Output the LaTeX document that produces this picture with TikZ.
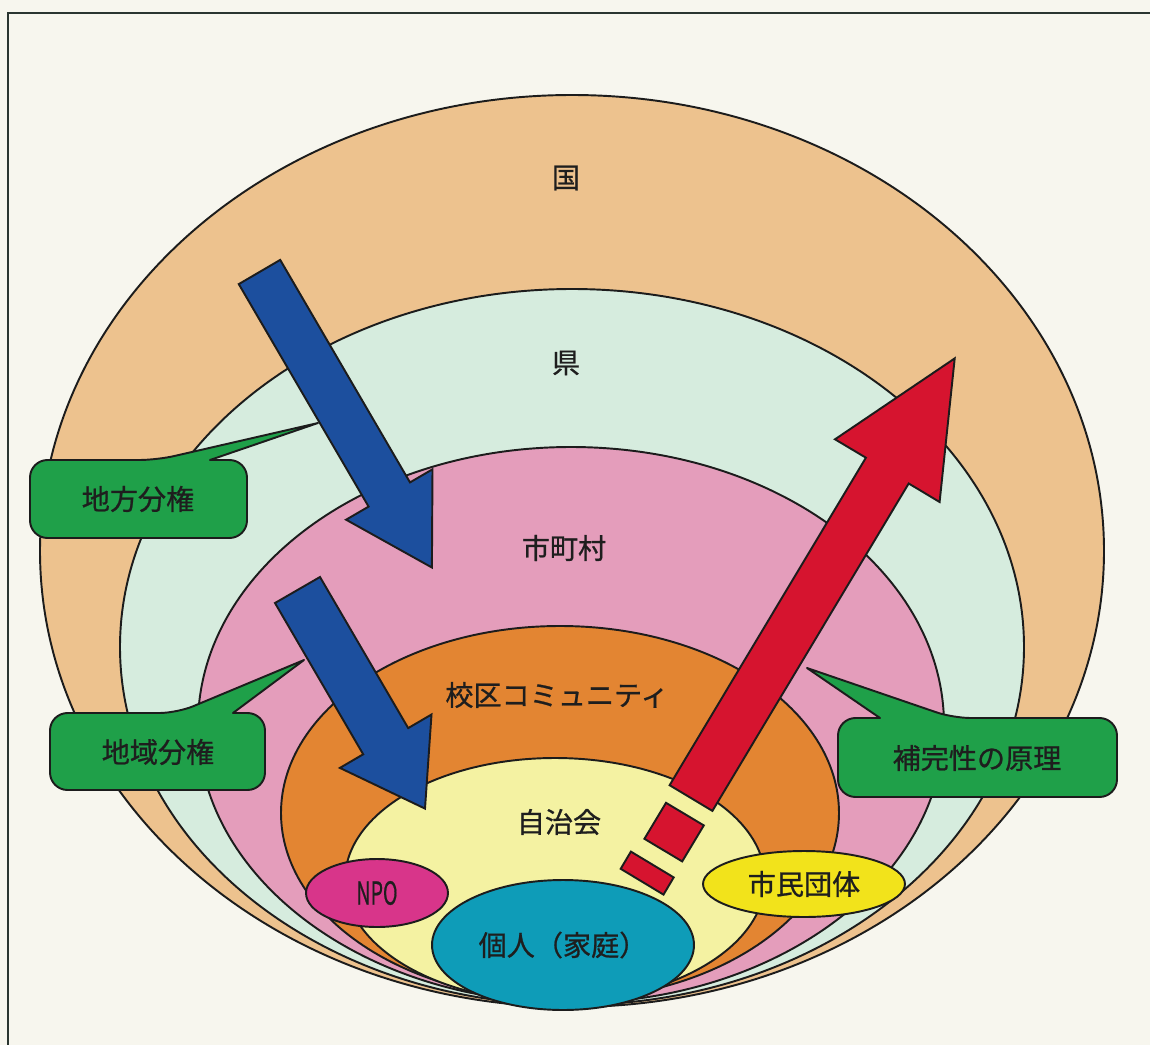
\documentclass[tikz,border=0pt]{standalone}
\usepackage{fontspec}
\setmainfont[FakeBold=0.8]{Noto Sans CJK JP}
\usetikzlibrary{shapes.geometric}
\definecolor{bg}{HTML}{F7F6EE}
\definecolor{framec}{HTML}{2A3530}
\definecolor{linec}{HTML}{1C1C1C}
\definecolor{txt}{HTML}{1E1E1E}
\definecolor{ctan}{HTML}{EDC28E}
\definecolor{cmint}{HTML}{D6ECDE}
\definecolor{cpink}{HTML}{E49DBB}
\definecolor{corange}{HTML}{E38532}
\definecolor{cpale}{HTML}{F4F2A2}
\definecolor{cteal}{HTML}{0E9CB8}
\definecolor{cmag}{HTML}{D8358A}
\definecolor{cyel}{HTML}{F2E31B}
\definecolor{cgreen}{HTML}{1FA049}
\definecolor{cblue}{HTML}{1C4F9E}
\definecolor{cred}{HTML}{D6142F}
\begin{document}
\begin{tikzpicture}[x=0.02cm,y=-0.02cm,
  outline/.style={draw=linec, line width=1.1pt},
  region/.style={outline, fill=#1},
  lbl/.style={font=\fontsize{16}{16}\selectfont, text=txt, inner sep=0pt},
  blob/.style={ellipse, outline, fill=#1, inner sep=0pt, font=\fontsize{16}{16}\selectfont, text=txt},
  callout/.style={outline, fill=cgreen, line join=round},
  arrowshape/.style={outline, fill=#1, line join=miter}]
\useasboundingbox (0,0) rectangle (1150,1045);
\fill[bg] (0,0) rectangle (1150,1045);
\draw[framec, line width=1.2pt] (8,1045) -- (8,13) -- (1150,13);

% nested regions
\filldraw[region=ctan]    (572,551) ellipse [x radius=532, y radius=456];
\filldraw[region=cmint]   (572,647) ellipse [x radius=452, y radius=358];
\filldraw[region=cpink]   (571,725) ellipse [x radius=373, y radius=278];
\filldraw[region=corange] (560,813) ellipse [x radius=279, y radius=187];
\filldraw[region=cpale]   (555,880) ellipse [x radius=210, y radius=122];

% region labels
\node[lbl] (kuni)   at (566,178) {国};
\node[lbl] (ken)    at (566,363) {県};
\node[lbl] (shi)    at (564,548) {市町村};
\node[lbl] (kouku)  at (557,695) {校区コミュニティ};
\node[lbl] (jichi)  at (559,822) {自治会};

% blue arrows
\draw[arrowshape=cblue] (238.8,284.1) -- (280.2,259.9) -- (410,482.4) -- (432.5,469.3)
  -- (431.9,567.5) -- (346.1,519.7) -- (368.6,506.6) -- cycle;
\draw[arrowshape=cblue] (275,603) -- (320,577) -- (408.2,728.1) -- (431.5,714.5)
  -- (425,808.6) -- (339.9,767.9) -- (363.2,754.3) -- cycle;

% red arrow and dashes
\draw[arrowshape=cred] (669.6,785.2) -- (865.9,457.7) -- (835,439.3) -- (954.7,358.4)
  -- (939.6,502) -- (908.7,483.5) -- (712.4,810.9) -- cycle;
\draw[arrowshape=cred] (703.8,825.4) -- (666.0,802.8) -- (644.4,838.8) -- (682.2,861.4) -- cycle;
\draw[arrowshape=cred] (673.7,877.4) -- (630.9,851.6) -- (620.7,868.8) -- (663.5,894.6) -- cycle;

% small groups
\node[blob=cmag, minimum width=2.84cm, minimum height=1.36cm] (npo) at (377,893)
  {\scalebox{0.62}[1]{\fontsize{18}{18}\selectfont NPO}};
\node[blob=cteal, minimum width=5.24cm, minimum height=2.6cm] (kojin) at (563,945) {個人（家庭）};
\node[blob=cyel, minimum width=4.04cm, minimum height=1.32cm] (shimin) at (804,884) {市民団体};

% callouts
\draw[callout] (157,460) -- (318,423) -- (210,460) [rounded corners=10pt] -- (247,460)
  -- (247,538) -- (30,538) -- (30,460) -- cycle;
\node[lbl] (chiho) at (138,499) {地方分権};
\draw[callout] (177,713) -- (304,660) -- (233,713) [rounded corners=10pt] -- (265,713)
  -- (265,790) -- (50,790) -- (50,713) -- cycle;
\node[lbl] (chiiki) at (158,752) {地域分権};
\draw[callout] (953,718) -- (807,668) -- (880,718) [rounded corners=10pt] -- (838,718)
  -- (838,797) -- (1117,797) -- (1117,718) -- cycle;
\node[lbl] (hokan) at (977,758) {補完性の原理};
\end{tikzpicture}
\end{document}
